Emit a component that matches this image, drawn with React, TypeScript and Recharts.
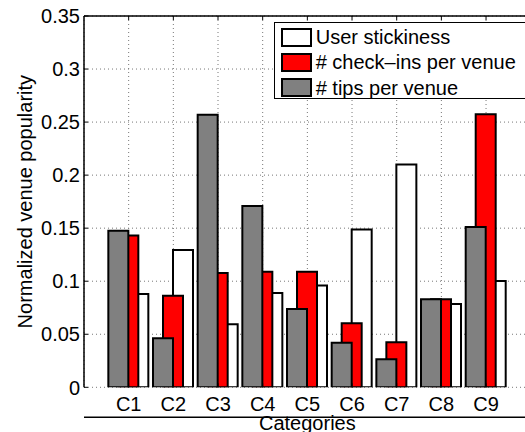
import { BarChart, Bar, XAxis, YAxis, CartesianGrid, Legend } from 'recharts'

const categories = ['C1', 'C2', 'C3', 'C4', 'C5', 'C6', 'C7', 'C8', 'C9']
const stickiness = [0.088, 0.1295, 0.0594, 0.089, 0.0959, 0.1487, 0.21, 0.0786, 0.1003]
const checkins = [0.143, 0.0864, 0.1078, 0.109, 0.109, 0.0604, 0.0425, 0.083, 0.2575]
const tips = [0.1475, 0.0462, 0.2569, 0.171, 0.0739, 0.0421, 0.0264, 0.083, 0.1512]
const yTicks = [0, 0.05, 0.1, 0.15, 0.2, 0.25, 0.3, 0.35]
const yTickLabels = ['0', '0.05', '0.1', '0.15', '0.2', '0.25', '0.3', '0.35']

const legendItems = [
  { name: 'User stickiness', color: '#ffffff' },
  { name: '# check–ins per venue', color: '#ff0000' },
  { name: '# tips per venue', color: '#808080' },
]

const FONT = '"Liberation Sans", Arial, Helvetica, sans-serif'
const W = 531
const H = 432
// plot area: left 84, top 16, bottom 387.3, right 530.7 (axes take 1px each)
const M = { top: 15, left: 83, right: 0.3, bottom: 43.7 }
const PL = 84
const PT = 16
const PB = 387.3
const PAD = 22.33 // half a category step (xlim 0..10)
const SHIFT = 10

const data = categories.map((c, i) => ({
  name: c, stick: stickiness[i], checkins: checkins[i], tips: tips[i],
}))

const YTick = ({ y, payload }: any) => {
  const idx = yTicks.indexOf(payload.value)
  return (
    <g>
      <line x1={PL} x2={PL + 4} y1={y} y2={y} stroke="#000" strokeWidth={1} />
      <text x={PL - 4} y={y + 7.2} textAnchor="end" fontSize={20} fontFamily={FONT} fill="#000">
        {idx >= 0 ? yTickLabels[idx] : payload.value}
      </text>
    </g>
  )
}

const XTick = ({ x, payload }: any) => (
  <g>
    <line x1={x} x2={x} y1={PB} y2={PB - 4} stroke="#000" strokeWidth={1} />
    <text x={x} y={PB + 23.7} textAnchor="middle" fontSize={20} fontFamily={FONT} fill="#000">
      {payload.value}
    </text>
  </g>
)

const TopTick = ({ x }: any) => (
  <line x1={x} x2={x} y1={PT} y2={PT + 4} stroke="#000" strokeWidth={1} />
)

const LegendBox = () => (
  <div style={{
    boxSizing: 'border-box', width: 262, height: 77, border: '1px solid #000',
    background: '#fff', paddingTop: 1.5, fontFamily: FONT, fontSize: 20, color: '#000',
  }}>
    {legendItems.map(it => (
      <div key={it.name} style={{ display: 'flex', alignItems: 'center', height: 25.3 }}>
        <div style={{
          boxSizing: 'border-box', width: 31.5, height: 19, marginLeft: 5.5, marginRight: 3.7,
          border: '2px solid #000', background: it.color,
        }} />
        <span style={{ whiteSpace: 'nowrap', lineHeight: '20px' }}>{it.name}</span>
      </div>
    ))}
  </div>
)

export default function App() {
  return (
    <div style={{ position: 'absolute', left: 0, top: 0, width: 525, height: 432, overflow: 'hidden', background: '#fff' }}>
      <BarChart width={W} height={H} data={data} margin={M}>
        <CartesianGrid xAxisId="r" stroke="#777" strokeDasharray="1 3" strokeWidth={1} />
        <XAxis xAxisId="w" dataKey="name" hide padding={{ left: PAD + SHIFT, right: PAD - SHIFT }} />
        <XAxis xAxisId="g" dataKey="name" hide padding={{ left: PAD - SHIFT, right: PAD + SHIFT }} />
        <XAxis
          xAxisId="r" dataKey="name" height={1} padding={{ left: PAD, right: PAD }}
          axisLine={{ stroke: '#000', strokeWidth: 1.5 }} tickLine={false}
          tickSize={0} tickMargin={0} interval={0} tick={<XTick />}
          label={{
            content: () => (
              <text x={PL + (W - M.right - PL) / 2} y={430} textAnchor="middle" fontSize={20} fontFamily={FONT} fill="#000">
                Categories
              </text>
            ),
          }}
        />
        <XAxis
          xAxisId="top" orientation="top" dataKey="name" height={1} padding={{ left: PAD, right: PAD }}
          axisLine={{ stroke: '#000', strokeWidth: 1.5 }} tickLine={false}
          tickSize={0} tickMargin={0} interval={0} tick={<TopTick />}
        />
        <YAxis
          width={1} domain={[0, 0.35]} ticks={yTicks} interval={0} allowDataOverflow
          axisLine={{ stroke: '#000', strokeWidth: 1.5 }} tickLine={false}
          tickSize={0} tickMargin={4} tick={<YTick />}
          label={{
            content: () => (
              <text
                x={0} y={0} textAnchor="middle" fontSize={20} fontFamily={FONT} fill="#000"
                transform={`translate(32, ${(PT + PB) / 2}) rotate(-90)`}
              >
                Normalized venue popularity
              </text>
            ),
          }}
        />
        <Legend
          layout="vertical" align="center" verticalAlign="middle"
          content={<LegendBox />}
          wrapperStyle={{ left: 274, top: 22, width: 262, height: 77 }}
        />
        <Bar xAxisId="w" dataKey="stick" name="User stickiness" fill="#ffffff" stroke="#000" strokeWidth={2} barSize={20} isAnimationActive={false} />
        <Bar xAxisId="r" dataKey="checkins" name="# check–ins per venue" fill="#ff0000" stroke="#000" strokeWidth={2} barSize={20} isAnimationActive={false} />
        <Bar xAxisId="g" dataKey="tips" name="# tips per venue" fill="#808080" stroke="#000" strokeWidth={2} barSize={20} isAnimationActive={false} />
      </BarChart>
    </div>
  )
}
